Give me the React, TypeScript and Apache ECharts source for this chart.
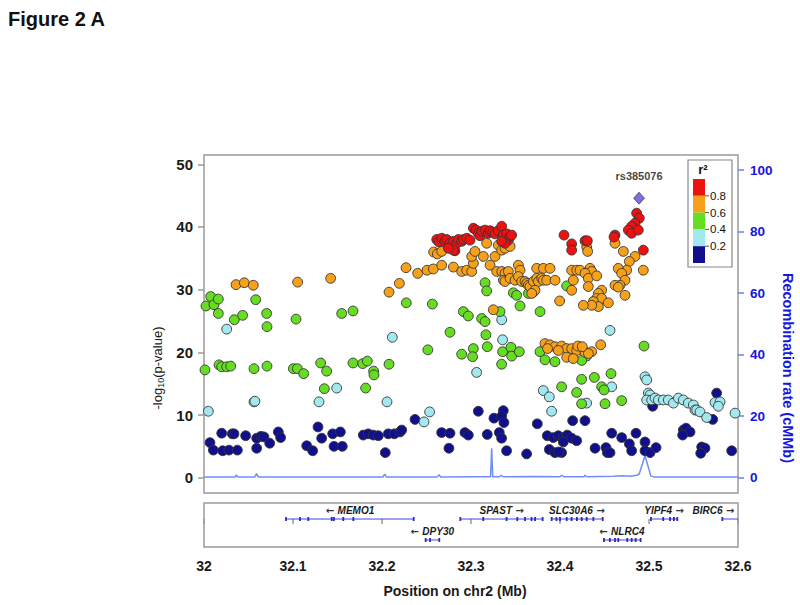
import React, { useEffect, useRef } from "react";
import * as echarts from "echarts";

// ---------- axis ticks ----------
const xTicks = [32, 32.1, 32.2, 32.3, 32.4, 32.5, 32.6];
const leftTicks = [0, 10, 20, 30, 40, 50];
const rightTicks = [0, 20, 40, 60, 80, 100];

// ---------- r2 legend ----------
const r2Colors = ["#10108c", "#a2e8ef", "#66dd22", "#f7a11a", "#ee1111"]; // 0-0.2 ... 0.8-1
const r2Labels = ["0.2", "0.4", "0.6", "0.8"];

// ---------- SNPs: [position Mb, -log10 p] ----------
const snpR2Navy: [number, number][] = [
  [32.0067, 5.6], [32.0105, 4.4], [32.0199, 7.1], [32.021, 4.3], [32.0281, 4.4], [32.0375, 4.4],
  [32.0318, 7.0], [32.0337, 7.0], [32.0468, 6.7], [32.0592, 6.3], [32.064, 6.6], [32.0674, 6.5],
  [32.0592, 4.7], [32.0738, 5.5], [32.0835, 7.3], [32.0861, 6.4], [32.1154, 5.1], [32.1221, 4.3],
  [32.1281, 8.1], [32.1322, 6.3], [32.1446, 7.0], [32.1532, 7.3], [32.1461, 5.0], [32.1554, 5.0],
  [32.179, 6.8], [32.1846, 7.0], [32.1903, 6.8], [32.1959, 6.7], [32.2037, 4.0], [32.2071, 7.0],
  [32.2139, 7.0], [32.2202, 7.3], [32.2221, 7.6], [32.2371, 9.3],
  [32.3082, 10.6], [32.3363, 10.7], [32.3258, 9.5], [32.3344, 9.8], [32.337, 8.8], [32.267, 7.2],
  [32.2764, 7.1], [32.2932, 7.2], [32.297, 6.8], [32.3183, 6.9], [32.3318, 7.2], [32.3344, 6.3],
  [32.2752, 4.7], [32.34, 4.3], [32.3625, 3.8], [32.3745, 8.6], [32.3857, 6.7], [32.3925, 6.4],
  [32.3981, 6.7], [32.4037, 6.4], [32.4082, 6.8], [32.4131, 6.3], [32.4187, 5.9], [32.4037, 5.7],
  [32.388, 4.5], [32.3943, 4.0], [32.4018, 4.0], [32.3985, 4.1], [32.4142, 9.1], [32.4281, 9.1],
  [32.576, 13.5], [32.5041, 11.4], [32.5716, 9.3], [32.4581, 7.1], [32.4693, 6.4], [32.4854, 7.1],
  [32.4779, 5.4], [32.4955, 5.7], [32.5386, 7.6], [32.5416, 7.9], [32.5461, 7.3], [32.5378, 6.8],
  [32.4394, 4.7], [32.4517, 4.8], [32.4532, 4.0], [32.4562, 4.0], [32.4805, 4.3], [32.4955, 4.3],
  [32.5012, 4.0], [32.5079, 4.8], [32.5592, 4.9], [32.5629, 4.7], [32.5581, 3.9], [32.5929, 4.3],
];

const snpR2Cyan: [number, number][] = [
  [32.0049, 10.6], [32.0255, 23.7], [32.0562, 12.1], [32.0572, 12.2], [32.1292, 12.1], [32.1491, 14.3],
  [32.2056, 12.1], [32.2116, 22.4], [32.2472, 8.9], [32.2535, 10.5],
  [32.3355, 22.0], [32.3063, 16.8], [32.3812, 13.9], [32.388, 12.9], [32.3906, 10.6], [32.4299, 11.9],
  [32.3345, 25.2],
  [32.4562, 23.5], [32.4955, 16.1], [32.4974, 15.6], [32.4993, 13.5], [32.5012, 13.2], [32.4974, 12.4],
  [32.503, 12.4], [32.5068, 12.7], [32.5105, 12.4], [32.5161, 12.4], [32.5217, 12.4], [32.5274, 11.9],
  [32.533, 12.7], [32.5386, 12.4], [32.5442, 11.9], [32.5498, 11.6], [32.5517, 10.8], [32.5536, 10.8],
  [32.5573, 10.5], [32.5648, 9.6], [32.5742, 12.0], [32.5798, 12.1], [32.5779, 11.4], [32.5967, 10.3],
  [32.4581, 14.5],
];

const snpR2Green: [number, number][] = [
  [32.0011, 17.2], [32.0022, 27.4], [32.0075, 28.9], [32.0112, 27.6], [32.0161, 28.5], [32.0161, 26.2],
  [32.0341, 25.2], [32.0434, 25.9], [32.0581, 28.4], [32.0704, 26.2], [32.0708, 24.1], [32.1034, 25.3],
  [32.1547, 26.2], [32.1674, 26.6], [32.2273, 27.9], [32.2566, 27.7], [32.2515, 20.4],
  [32.0169, 18.0], [32.0199, 17.7], [32.0255, 17.7], [32.03, 17.8], [32.0562, 17.4], [32.0708, 17.8],
  [32.1004, 17.4], [32.1049, 17.4], [32.112, 16.6], [32.1311, 18.3], [32.1378, 17.0], [32.1352, 14.2],
  [32.1674, 18.3], [32.1783, 18.2], [32.1835, 18.6], [32.1906, 17.0], [32.191, 16.4], [32.1816, 14.3],
  [32.2079, 18.1],
  [32.2764, 23.2], [32.3158, 31.1], [32.3176, 29.8], [32.3476, 29.5], [32.3513, 29.1], [32.3645, 29.4],
  [32.37, 29.6], [32.3551, 27.4], [32.3776, 26.5], [32.3326, 26.5], [32.2914, 26.5], [32.297, 25.8],
  [32.312, 25.4], [32.3158, 24.9], [32.4075, 30.6],
  [32.3168, 22.8], [32.3026, 20.6], [32.3018, 19.3], [32.2895, 19.7], [32.3183, 20.9], [32.3355, 20.1],
  [32.3449, 20.8], [32.3457, 19.4], [32.3543, 20.1], [32.3344, 18.1], [32.3775, 20.1], [32.3831, 18.8],
  [32.3943, 18.5], [32.4018, 14.5], [32.4187, 13.6], [32.4243, 15.7], [32.4243, 11.8],
  [32.4944, 21.0], [32.4573, 16.6], [32.4386, 16.0], [32.4468, 14.5], [32.4495, 14.0], [32.4693, 12.3],
  [32.4506, 11.8], [32.43, 19.4], [32.4244, 18.7],
];

const snpR2Orange: [number, number][] = [
  [32.036, 30.8], [32.0453, 31.1], [32.0554, 30.7], [32.1052, 31.2], [32.1423, 31.8], [32.2079, 29.6],
  [32.2195, 31.0], [32.227, 33.5], [32.2401, 32.6], [32.2506, 33.1], [32.2577, 33.3], [32.258, 36.0],
  [32.2622, 35.7],
  [32.2671, 36.1], [32.2671, 33.9], [32.2802, 33.6], [32.2895, 32.9], [32.2952, 33.1], [32.3008, 32.9],
  [32.3027, 34.2], [32.3008, 35.3], [32.3045, 36.1], [32.3139, 35.3], [32.3176, 37.4], [32.3214, 33.9],
  [32.327, 35.3], [32.3307, 37.1], [32.3345, 36.3], [32.3382, 36.6], [32.3439, 36.9], [32.3289, 32.9],
  [32.3345, 32.9], [32.3382, 32.6], [32.342, 32.9], [32.3364, 31.5], [32.3382, 31.3], [32.3439, 31.8],
  [32.3495, 31.5], [32.3532, 33.9], [32.3551, 33.1], [32.3532, 32.1], [32.357, 31.3], [32.3607, 31.3],
  [32.3626, 31.0], [32.3645, 30.7], [32.3663, 30.5], [32.3701, 31.3], [32.3738, 31.8], [32.3757, 31.3],
  [32.3794, 31.8], [32.3813, 31.5], [32.3719, 29.9], [32.3682, 29.4], [32.3738, 33.4], [32.3813, 33.4],
  [32.3888, 33.4], [32.385, 31.5], [32.3944, 31.5], [32.4131, 33.1], [32.4188, 33.1], [32.415, 31.5],
  [32.4131, 29.9], [32.3996, 28.2], [32.3251, 26.8],
  [32.43, 36.8], [32.4311, 36.1], [32.4618, 37.4], [32.4712, 36.1], [32.4843, 35.3], [32.4779, 34.5],
  [32.4749, 33.1], [32.4655, 33.4], [32.4693, 32.6], [32.473, 31.5], [32.4674, 30.7], [32.4618, 30.7],
  [32.4936, 33.1], [32.473, 29.1], [32.4225, 33.1], [32.4337, 33.4], [32.4356, 32.9], [32.4281, 32.6],
  [32.4318, 31.8], [32.4412, 32.2], [32.4318, 30.5], [32.4468, 29.9], [32.4431, 29.4], [32.4412, 28.6],
  [32.4468, 28.6], [32.4375, 28.1], [32.4431, 27.3], [32.4356, 27.5], [32.4262, 27.5], [32.4543, 27.9],
  [32.4655, 30.4],
  [32.3831, 21.4], [32.3887, 21.2], [32.3943, 20.9], [32.4018, 21.0], [32.4075, 20.6], [32.4131, 20.6],
  [32.4187, 20.3], [32.4281, 20.0], [32.4075, 19.2], [32.4149, 19.0], [32.3981, 20.3], [32.4457, 21.2],
  [32.4356, 20.1], [32.4319, 19.8], [32.386, 20.6], [32.42, 21.0], [32.425, 20.9],
];

const snpR2Red: [number, number][] = [
  [32.2615, 38.0], [32.264, 37.6],
  [32.2671, 38.2], [32.2708, 37.7], [32.2727, 38.0], [32.2764, 37.4], [32.2802, 37.7], [32.282, 36.2],
  [32.2839, 37.4], [32.2858, 38.0], [32.2895, 37.7], [32.2914, 38.0], [32.2952, 38.2], [32.2989, 37.9],
  [32.3027, 39.8], [32.3056, 39.5], [32.3083, 39.0], [32.3101, 38.6], [32.312, 39.3], [32.3158, 39.5],
  [32.3195, 39.0], [32.3214, 39.4], [32.3244, 39.2], [32.327, 38.9], [32.3307, 39.4], [32.3345, 40.1],
  [32.3363, 38.7], [32.3401, 38.9], [32.342, 37.9], [32.3439, 38.5], [32.3457, 38.7], [32.3382, 37.4],
  [32.3345, 37.7], [32.2802, 36.3], [32.2746, 36.6],
  [32.4045, 38.7], [32.4131, 37.3], [32.4131, 36.3], [32.4281, 37.8], [32.4307, 37.8], [32.4618, 38.7],
  [32.4607, 38.4], [32.4861, 42.2], [32.4891, 41.4], [32.4843, 40.6], [32.4805, 40.1], [32.4768, 39.5],
  [32.4805, 39.0], [32.488, 39.5], [32.4936, 36.3],
];

const leadSnp: [number, number][] = [[32.4888, 44.6]];
const leadName = "rs385076";

// ---------- recombination rate (cM/Mb) ----------
const recombPos = [
  32.0, 32.02, 32.035, 32.0365, 32.038, 32.057, 32.059, 32.061, 32.1, 32.15, 32.201, 32.203, 32.205,
  32.24, 32.262, 32.264, 32.266, 32.3, 32.322, 32.3232, 32.3244, 32.332, 32.334, 32.336, 32.37, 32.4,
  32.402, 32.404, 32.427, 32.428, 32.43, 32.46, 32.47, 32.48, 32.486, 32.489, 32.4955, 32.502, 32.506,
  32.55, 32.6,
];
const recombRate = [
  0.2, 0.2, 0.2, 0.9, 0.2, 0.2, 1.3, 0.2, 0.2, 0.2, 0.2, 1.2, 0.2,
  0.2, 0.2, 1.0, 0.2, 0.3, 0.3, 9.6, 0.3, 0.3, 0.8, 0.3, 0.4, 0.3,
  0.8, 0.3, 0.3, 0.8, 0.3, 0.5, 0.6, 0.5, 0.8, 1.2, 7.2, 0.6, 0.2,
  0.2, 0.2,
];

// ---------- genes ----------
const geneNames = ["MEMO1", "DPY30", "SPAST", "SLC30A6", "NLRC4", "YIPF4", "BIRC6"];
const geneStart = [32.092, 32.248, 32.288, 32.39, 32.449, 32.502, 32.582];
const geneEnd = [32.236, 32.265, 32.381, 32.448, 32.49, 32.532, 32.6];
const geneStrand = ["-", "-", "+", "+", "-", "+", "+"];
const geneRow = [0, 1, 0, 0, 1, 0, 0];
const geneExons = [
  [32.0921, 32.1079, 32.1172, 32.1435, 32.146, 32.1565, 32.1678, 32.2356],
  [32.2491, 32.254, 32.2644],
  [32.288, 32.3138, 32.34, 32.352, 32.3607, 32.368, 32.372, 32.3805],
  [32.3906, 32.396, 32.4, 32.4075, 32.413, 32.419, 32.4244, 32.43, 32.4375, 32.448],
  [32.4494, 32.456, 32.4618, 32.4655, 32.4756, 32.4805, 32.485, 32.4906],
  [32.5022, 32.516, 32.5236, 32.528, 32.5318],
  [32.5824],
];

const FONT = "Arial, 'Liberation Sans', Helvetica, sans-serif";
const BLUE = "#1616e0";

function xFmt(v: number) {
  const s = (+v).toFixed(1);
  return s.endsWith(".0") ? s.slice(0, -2) : s;
}

export default function App() {
  const ref = useRef<HTMLDivElement>(null);

  useEffect(() => {
    if (!ref.current) return;
    const chart = echarts.init(ref.current, undefined, { renderer: "svg" });

    const scatter = (name: string, data: [number, number][], color: string) => ({
      name,
      type: "scatter",
      xAxisIndex: 0,
      yAxisIndex: 0,
      data,
      symbol: "circle",
      symbolSize: 9.8,
      itemStyle: { color, borderColor: "#333", borderWidth: 0.9, opacity: 1 },
      z: 3,
      silent: true,
    });

    // legend graphics
    const barX = 693, barTop = 179, segH = 16.8, barW = 12;
    const legendEls: any[] = [
      {
        type: "rect",
        shape: { x: 688, y: 160, width: 44, height: 107 },
        style: { fill: "#fff", stroke: "#888", lineWidth: 1.2 },
        z: 10,
      },
      {
        type: "text",
        x: 703, y: 169,
        style: { x: 0, y: 0, text: "r\u00b2", font: `bold 13px ${FONT}`, fill: "#111", align: "center", verticalAlign: "middle" },
        z: 11,
      },
    ];
    const topDown = r2Colors.slice().reverse();
    topDown.forEach((c, k) => {
      legendEls.push({
        type: "rect",
        shape: { x: barX, y: barTop + k * segH, width: barW, height: segH },
        style: { fill: c },
        z: 11,
      });
    });
    const labelsTopDown = r2Labels.slice().reverse();
    labelsTopDown.forEach((t, k) => {
      const y = barTop + (k + 1) * segH;
      legendEls.push({
        type: "line",
        shape: { x1: barX + barW, y1: y, x2: barX + barW + 4, y2: y },
        style: { stroke: "#555", lineWidth: 1 },
        z: 11,
      });
      legendEls.push({
        type: "text",
        x: barX + barW + 5, y,
        style: { x: 0, y: 0, text: t, font: `11.5px ${FONT}`, fill: "#111", align: "left", verticalAlign: "middle" },
        z: 11,
      });
    });

    const option: any = {
      animation: false,
      backgroundColor: "#fff",
      grid: [
        { left: 204, top: 155, width: 534, height: 338, show: true, borderColor: "#9a9a9a", borderWidth: 1.5, backgroundColor: "#fff" },
        { left: 204, top: 503, width: 534, height: 44, show: true, borderColor: "#9a9a9a", borderWidth: 1.5, backgroundColor: "#fff" },
      ],
      xAxis: [
        { type: "value", gridIndex: 0, min: 32, max: 32.6, show: false },
        {
          type: "value", gridIndex: 1, min: 32, max: 32.6,
          axisLine: { show: false },
          splitLine: { show: false },
          axisTick: { show: true, length: 5, customValues: xTicks, lineStyle: { color: "#9a9a9a", width: 1.5 } },
          axisLabel: { customValues: xTicks, formatter: xFmt, fontSize: 14, fontWeight: "bold", color: "#1a1a1a", margin: 12, fontFamily: FONT },
        },
      ],
      yAxis: [
        {
          type: "value", gridIndex: 0, min: -2.44, max: 51.48,
          axisLine: { show: false }, splitLine: { show: false },
          axisTick: { show: true, length: 6, customValues: leftTicks, lineStyle: { color: "#9a9a9a", width: 1.5 } },
          axisLabel: { customValues: leftTicks, fontSize: 15, fontWeight: "bold", color: "#1a1a1a", margin: 11, fontFamily: FONT },
        },
        {
          type: "value", gridIndex: 0, position: "right", min: -4.97, max: 104.9,
          axisLine: { show: false }, splitLine: { show: false },
          axisTick: { show: true, length: 6, customValues: rightTicks, lineStyle: { color: "#6a7cf0", width: 1.5 } },
          axisLabel: { customValues: rightTicks, fontSize: 13.5, fontWeight: "bold", color: BLUE, margin: 12, fontFamily: FONT },
        },
        { type: "value", gridIndex: 1, min: -0.765, max: 1.335, inverse: true, show: false },
      ],
      series: [
        {
          name: "recomb",
          type: "line",
          xAxisIndex: 0,
          yAxisIndex: 1,
          data: recombPos.map((p, i) => [p, recombRate[i]]),
          showSymbol: false,
          symbol: "none",
          lineStyle: { color: "#6f8ff8", width: 1.5 },
          z: 1,
          silent: true,
        },
        scatter("r2 0-0.2", snpR2Navy, r2Colors[0]),
        scatter("r2 0.2-0.4", snpR2Cyan, r2Colors[1]),
        scatter("r2 0.4-0.6", snpR2Green, r2Colors[2]),
        scatter("r2 0.6-0.8", snpR2Orange, r2Colors[3]),
        scatter("r2 0.8-1", snpR2Red, r2Colors[4]),
        {
          name: "lead",
          type: "scatter",
          xAxisIndex: 0,
          yAxisIndex: 0,
          data: leadSnp,
          symbol: "diamond",
          symbolSize: [11, 12],
          itemStyle: { color: "#6446d8", borderColor: "#2a2a2a", borderWidth: 0.8 },
          label: {
            show: true, position: "top", distance: 10, formatter: leadName,
            fontSize: 11, fontWeight: "bold", color: "#111", fontFamily: FONT,
          },
          z: 5,
          silent: true,
        },
        {
          name: "genes",
          type: "custom",
          xAxisIndex: 1,
          yAxisIndex: 2,
          clip: true,
          data: geneStart.map((s, i) => [s, geneEnd[i], geneRow[i], i]),
          encode: { x: [0, 1], y: 2 },
          silent: true,
          renderItem: (params: any, api: any) => {
            const idx = api.value(3);
            const row = api.value(2);
            const p0 = api.coord([api.value(0), row]);
            const p1 = api.coord([api.value(1), row]);
            const cs = params.coordSys;
            const children: any[] = [
              {
                type: "line",
                shape: { x1: p0[0], y1: p0[1], x2: p1[0], y2: p1[1] },
                style: { stroke: "#4646dc", lineWidth: 1 },
              },
            ];
            geneExons[idx].forEach((e: number) => {
              const c = api.coord([e, row]);
              children.push({
                type: "rect",
                shape: { x: c[0] - 0.9, y: c[1] - 2, width: 1.8, height: 4 },
                style: { fill: "#2a2ab4" },
              });
            });
            const plus = geneStrand[idx] === "+";
            const label = plus
              ? `{t|${geneNames[idx]}}{ar| \u2192}`
              : `{ar|\u2190 }{t|${geneNames[idx]}}`;
            const estW = geneNames[idx].length * 6.6 + 14;
            let lx = (p0[0] + p1[0]) / 2;
            const rightEdge = cs.x + cs.width - 1;
            if (lx + estW / 2 > rightEdge) lx = rightEdge - estW / 2;
            children.push({
              type: "text",
              style: {
                text: label, x: lx, y: p0[1] - 8.5,
                align: "center", verticalAlign: "middle",
                rich: {
                  t: { fontSize: 10, fontStyle: "italic", fontWeight: "bold", fontFamily: FONT, fill: "#1a1a1a" },
                  ar: { fontSize: 10, fontWeight: "bold", fontFamily: "'DejaVu Sans', sans-serif", fill: "#333" },
                },
              },
            });
            return { type: "group", children };
          },
          z: 3,
        },
      ],
      graphic: [
        {
          type: "text", left: 8, top: 9,
          style: { text: "Figure 2 A", font: `bold 20px ${FONT}`, fill: "#111" },
        },
        {
          type: "text", x: 157, y: 368, rotation: Math.PI / 2,
          style: {
            x: 0, y: 0,
            text: "{a|-log}{b|10}{a|(p-value)}",
            align: "center", verticalAlign: "middle",
            rich: {
              a: { fontSize: 13, fontFamily: FONT, fill: "#1a1a1a", lineHeight: 16, verticalAlign: "middle" },
              b: { fontSize: 9, fontFamily: FONT, fill: "#1a1a1a", lineHeight: 16, verticalAlign: "bottom", padding: [6, 0, 0, 0] },
            },
          },
        },
        {
          type: "text", x: 788, y: 368, rotation: -Math.PI / 2,
          style: {
            x: 0, y: 0, text: "Recombination rate (cMMb)",
            align: "center", verticalAlign: "middle",
            font: `bold 14.5px ${FONT}`, fill: BLUE,
          },
        },
        {
          type: "text", x: 455, y: 591,
          style: {
            x: 0, y: 0, text: "Position on chr2 (Mb)",
            align: "center", verticalAlign: "middle",
            font: `bold 14px ${FONT}`, fill: "#1a1a1a",
          },
        },
        ...legendEls,
      ],
    };

    chart.setOption(option);
    return () => chart.dispose();
  }, []);

  return (
    <div
      ref={ref}
      style={{ position: "fixed", left: 0, top: 0, width: 800, height: 605, background: "#fff" }}
    />
  );
}
